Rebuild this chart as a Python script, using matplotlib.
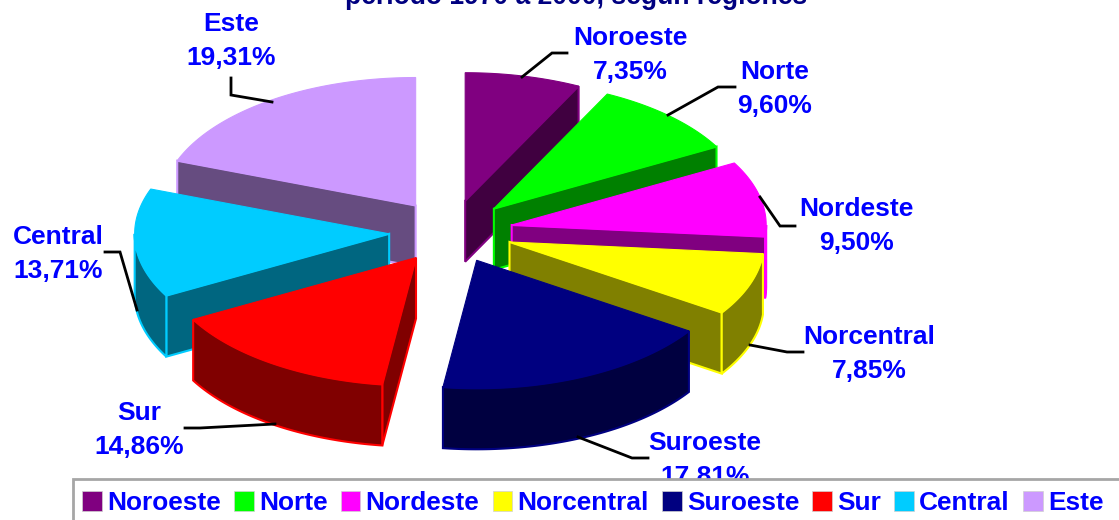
import numpy as np
import matplotlib
matplotlib.use('Agg')
import matplotlib.pyplot as plt
from matplotlib.patches import Polygon, Patch, Rectangle

plt.rcParams['font.family'] = ['Liberation Sans', 'DejaVu Sans']

regions = ['Noroeste', 'Norte', 'Nordeste', 'Norcentral', 'Suroeste', 'Sur', 'Central', 'Este']
shares = [7.35, 9.60, 9.50, 7.85, 17.81, 14.86, 13.71, 19.31]
colors = ['#800080', '#00ff00', '#ff00ff', '#ffff00', '#000080', '#ff0000', '#00ccff', '#cc99ff']
sides = ['#400040', '#008000', '#800080', '#808000', '#000040', '#800000', '#006680', '#664c80']
title = 'período 1970 a 2000, según regiones'

# pie geometry in pixels
cx, cy = 451, 231.5
rx, ry = 254.5, 128
explode = 62
squash = 0.51
depth = 61
drawOrder = [7, 0, 1, 2, 3, 6, 5, 4]

# label centre (x, y of first line), then the leader line
labelPos = {'Noroeste': (630, 38), 'Norte': (775, 72), 'Nordeste': (856, 209), 'Norcentral': (869, 337),
            'Suroeste': (705, 443), 'Sur': (139, 413), 'Central': (58, 237), 'Este': (231, 24)}
leaders = {'Noroeste': [(522, 77), (552, 53), (567, 53)],
           'Norte': [(668, 115), (718, 87), (735, 87)],
           'Nordeste': [(760, 197), (780, 226), (795, 226)],
           'Norcentral': [(750, 345), (787, 352), (803, 352)],
           'Suroeste': [(578, 437), (632, 458), (648, 458)],
           'Sur': [(275, 424), (200, 428), (185, 428)],
           'Central': [(137, 310), (120, 252), (105, 252)],
           'Este': [(272, 102), (231, 95), (231, 78)]}


def rimPoint(apex, deg):
    a = np.radians(deg)
    return apex[0] + rx*np.sin(a), apex[1] - ry*np.cos(a)


def arc(apex, start, end):
    t = np.linspace(start, end, 80)
    x, y = rimPoint(apex, t)
    return np.column_stack([x, y])


def extrude(points):
    low = points[::-1] + np.array([0, depth])
    return np.vstack([points, low])


fig = plt.figure(figsize=(11.19, 5.2), dpi=100)
ax = fig.add_axes([0, 0, 1, 1])
ax.set_xlim(0, 1119)
ax.set_ylim(520, 0)
ax.set_axis_off()

edges = np.concatenate([[0], np.cumsum(shares)]) / np.sum(shares) * 360

for i in drawOrder:
    start, end = edges[i], edges[i+1]
    mid = np.radians((start + end)/2)
    apex = np.array([cx + explode*np.sin(mid), cy - explode*np.cos(mid)*squash])
    # radial faces that look towards the viewer
    if 180 < start < 360:
        face = np.array([apex, rimPoint(apex, start)])
        ax.add_patch(Polygon(extrude(face), fc=sides[i], ec=colors[i], lw=1.5, joinstyle='miter'))
    if 0 < end < 180:
        face = np.array([apex, rimPoint(apex, end)])
        ax.add_patch(Polygon(extrude(face), fc=sides[i], ec=colors[i], lw=1.5, joinstyle='miter'))
    # outer rim, only the front half is seen
    a0, a1 = max(start, 90), min(end, 270)
    if a1 > a0:
        ax.add_patch(Polygon(extrude(arc(apex, a0, a1)), fc=sides[i], ec=colors[i], lw=1.5))
    top = np.vstack([[apex], arc(apex, start, end)])
    ax.add_patch(Polygon(top, fc=colors[i], ec=colors[i], lw=0.8))

for i, name in enumerate(regions):
    pts = np.array(leaders[name])
    ax.plot(pts[:, 0], pts[:, 1], color='k', lw=2, solid_joinstyle='miter')
    x, y = labelPos[name]
    ax.text(x, y, name, color='#0000ff', fontsize=19, fontweight='bold', ha='center', va='center')
    ax.text(x, y + 34, '{:.2f}%'.format(shares[i]).replace('.', ','), color='#0000ff',
            fontsize=19, fontweight='bold', ha='center', va='center')

ax.text(576, 4, title, color='#000080', fontsize=19.1, fontweight='bold', ha='center', va='baseline')

# legend box runs off the right and bottom of the picture and hides the Suroeste label
ax.add_patch(Rectangle((73, 479), 1100, 60, fc='white', ec='#a6a6a6', lw=2, zorder=9))
handles = [Patch(fc=c, ec='#d0d0d0', lw=0.5) for c in colors]
leg = ax.legend(handles, regions, ncol=8, loc='upper left', bbox_to_anchor=(73, 482),
                bbox_transform=ax.transData, borderaxespad=0, frameon=False,
                labelcolor='#0000ff', handlelength=0.75, handleheight=0.75,
                handletextpad=0.2, columnspacing=0.5, borderpad=0.35,
                prop={'size': 18.9, 'weight': 'bold'})
leg.set_zorder(10)

fig.savefig('out.png', dpi=100)
plt.close('all')
